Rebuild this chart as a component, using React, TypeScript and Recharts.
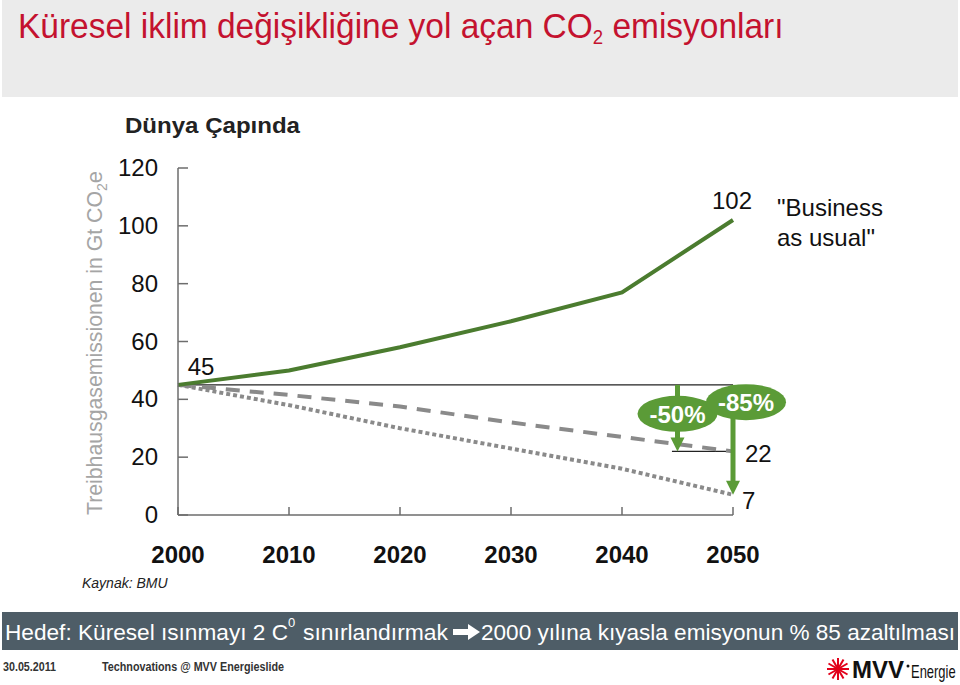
import React from 'react';
import {
  LineChart,
  Line,
  XAxis,
  YAxis,
  ReferenceLine,
  ReferenceDot,
  LabelList,
} from 'recharts';

const years = [2000, 2010, 2020, 2030, 2040, 2050];
const businessAsUsual = [45, 50, 58, 67, 77, 102];
const minus50 = [45, 41.5, 37.5, 32, 27, 22];
const minus85 = [45, 38, 30, 23, 16, 7];
const yTicks = [0, 20, 40, 60, 80, 100, 120];

const data = years.map((year, i) => ({
  year,
  bau: businessAsUsual[i],
  half: minus50[i],
  deep: minus85[i],
}));

const AXIS = '#6d6d6d';
const DARK_GREEN = '#4b7c2f';
const GREEN = '#5b9b37';
const GREY = '#8a8a8a';
const FONT = '"Liberation Sans", Arial, sans-serif';

const YTick = (props: any) => {
  const { x, y, payload } = props;
  return (
    <g>
      <line x1={x} x2={x + 10} y1={y} y2={y} stroke={AXIS} strokeWidth={1.5} />
      <text x={x - 20} y={y + 8} textAnchor="end" fontSize={24} fill="#111" fontFamily={FONT}>
        {payload.value}
      </text>
    </g>
  );
};

const XTick = (props: any) => {
  const { x, y, payload } = props;
  return (
    <g>
      <line x1={x} x2={x} y1={y} y2={y - 8} stroke={AXIS} strokeWidth={1.5} />
      <text x={x} y={y + 48} textAnchor="middle" fontSize={24} fontWeight="bold" fill="#111" fontFamily={FONT}>
        {payload.value}
      </text>
    </g>
  );
};

const Arrow = (props: any) => {
  const { x1, y1, x2, y2 } = props;
  const head = 14;
  return (
    <g>
      <line x1={x1} x2={x2} y1={y1} y2={y2 - head + 1} stroke={GREEN} strokeWidth={5} />
      <polygon points={`${x2 - 7},${y2 - head} ${x2 + 7},${y2 - head} ${x2},${y2}`} fill={GREEN} />
    </g>
  );
};

const Bubble = (text: string, dx: number) => (props: any) => {
  const { cx, cy } = props;
  return (
    <g>
      <ellipse cx={cx + dx} cy={cy} rx={40} ry={18} fill={GREEN} />
      <text x={cx + dx} y={cy + 9} textAnchor="middle" fontSize={24} fontWeight="bold" fill="#fff" fontFamily={FONT}>
        {text}
      </text>
    </g>
  );
};

const endLabel = (index: number, dx: number, dy: number, anchor: string) => (props: any) => {
  const { x, y, value } = props;
  if (props.index !== index) return null;
  return (
    <text x={x + dx} y={y + dy} textAnchor={anchor} fontSize={24} fill="#111" fontFamily={FONT}>
      {value}
    </text>
  );
};

export default function App() {
  return (
    <div style={{ position: 'absolute', left: 0, top: 0, width: 960, height: 685, background: '#fff', fontFamily: FONT }}>
      <svg width={960} height={685} style={{ position: 'absolute', left: 0, top: 0 }}>
        <rect x={2} y={0} width={956} height={97} fill="#ebebeb" />
        <text transform="translate(18,38) scale(0.93,1)" fontSize={36} fill="#c4122f" fontFamily={FONT}>
          <tspan>Küresel iklim değişikliğine yol açan CO</tspan>
          <tspan dy={6} fontSize={20}>2</tspan>
          <tspan dy={-6}> emisyonları</tspan>
        </text>

        <text x={125} y={133} fontSize={22} fontWeight="bold" fill="#222" textLength={175} lengthAdjust="spacingAndGlyphs" fontFamily={FONT}>
          Dünya Çapında
        </text>

        <text transform="translate(102,515) rotate(-90)" fontSize={22} fill="#a5a5a5" fontFamily={FONT}>
          <tspan textLength={324} lengthAdjust="spacingAndGlyphs">Treibhausgasemissionen in Gt CO</tspan>
          <tspan dy={5} fontSize={14}>2</tspan>
          <tspan dy={-5}>e</tspan>
        </text>

        <text x={777} y={216} fontSize={24} fill="#111" fontFamily={FONT}>"Business</text>
        <text x={777} y={246} fontSize={24} fill="#111" fontFamily={FONT}>as usual"</text>

        <text x={82} y={588} fontSize={14} fontStyle="italic" fill="#222" fontFamily={FONT}>Kaynak: BMU</text>

        <rect x={2} y={612} width={956} height={38} fill="#4e5d67" />
        <text x={5} y={640} fontSize={22} fill="#fff" textLength={283} lengthAdjust="spacingAndGlyphs" fontFamily={FONT}>
          Hedef: Küresel ısınmayı 2 C
        </text>
        <text x={288} y={627} fontSize={13} fill="#fff" fontFamily={FONT}>0</text>
        <text x={303} y={640} fontSize={22} fill="#fff" textLength={145} lengthAdjust="spacingAndGlyphs" fontFamily={FONT}>
          sınırlandırmak
        </text>
        <polygon points="453,629 468,629 468,624 480,632 468,640 468,635 453,635" fill="#fff" />
        <text x={481} y={640} fontSize={22} fill="#fff" textLength={474} lengthAdjust="spacingAndGlyphs" fontFamily={FONT}>
          2000 yılına kıyasla emisyonun % 85 azaltılması
        </text>

        <text x={3} y={671} fontSize={12} fontWeight="bold" fill="#333" textLength={53} lengthAdjust="spacingAndGlyphs" fontFamily={FONT}>
          30.05.2011
        </text>
        <text x={102} y={671} fontSize={12} fontWeight="bold" fill="#333" textLength={182} lengthAdjust="spacingAndGlyphs" fontFamily={FONT}>
          Technovations @ MVV Energieslide
        </text>

        <g stroke="#e2001a" strokeWidth={2}>
          {[0, 30, 60, 90, 120, 150].map((a) => {
            const r = 11;
            const rad = (a * Math.PI) / 180;
            return (
              <line
                key={a}
                x1={838 - r * Math.cos(rad)}
                y1={669 - r * Math.sin(rad)}
                x2={838 + r * Math.cos(rad)}
                y2={669 + r * Math.sin(rad)}
              />
            );
          })}
        </g>
        <text x={852} y={678} fontSize={24} fontWeight="bold" fill="#111" textLength={52} lengthAdjust="spacingAndGlyphs" fontFamily={FONT}>
          MVV
        </text>
        <circle cx={908} cy={666} r={1.5} fill="#111" />
        <text transform="translate(911,678) scale(0.72,1)" fontSize={18} fill="#111" fontFamily={FONT}>
          Energie
        </text>
      </svg>

      <div style={{ position: 'absolute', left: 0, top: 0 }}>
        <LineChart
          width={960}
          height={685}
          data={data}
          margin={{ top: 168, right: 227, bottom: 130, left: 118 }}
        >
          <XAxis
            type="number"
            dataKey="year"
            domain={[2000, 2050]}
            ticks={years}
            interval={0}
            height={40}
            tickSize={0}
            tickMargin={0}
            tickLine={false}
            axisLine={{ stroke: AXIS, strokeWidth: 1.5 }}
            tick={<XTick />}
          />
          <YAxis
            type="number"
            domain={[0, 120]}
            ticks={yTicks}
            interval={0}
            width={60}
            tickSize={0}
            tickMargin={0}
            tickLine={false}
            axisLine={{ stroke: AXIS, strokeWidth: 1.5 }}
            tick={<YTick />}
          />
          <ReferenceLine
            segment={[{ x: 2000, y: 45 }, { x: 2050, y: 45 }]}
            stroke="#222"
            strokeWidth={1.2}
          />
          <ReferenceLine
            segment={[{ x: 2044.5, y: 22 }, { x: 2050, y: 22 }]}
            stroke="#222"
            strokeWidth={1.2}
          />
          <Line
            type="linear"
            dataKey="deep"
            stroke={GREY}
            strokeWidth={4}
            strokeDasharray="4 3"
            dot={false}
            isAnimationActive={false}
          >
            <LabelList dataKey="deep" content={endLabel(5, 9, 14, 'start')} />
          </Line>
          <Line
            type="linear"
            dataKey="half"
            stroke={GREY}
            strokeWidth={4}
            strokeDasharray="14 10"
            dot={false}
            isAnimationActive={false}
          >
            <LabelList dataKey="half" content={endLabel(5, 12, 11, 'start')} />
          </Line>
          <Line
            type="linear"
            dataKey="bau"
            stroke={DARK_GREEN}
            strokeWidth={4}
            dot={false}
            isAnimationActive={false}
          >
            <LabelList dataKey="bau" content={(p: any) => (p.index === 0 ? endLabel(0, 23, -10, 'middle')(p) : endLabel(5, -1, -11, 'middle')(p))} />
          </Line>
          <ReferenceLine segment={[{ x: 2045, y: 45 }, { x: 2045, y: 22 }]} shape={<Arrow />} />
          <ReferenceLine segment={[{ x: 2050, y: 45 }, { x: 2050, y: 7 }]} shape={<Arrow />} ifOverflow="visible" />
          <ReferenceDot x={2045} y={35} r={1} shape={Bubble('-50%', 0)} ifOverflow="visible" />
          <ReferenceDot x={2050} y={39} r={1} shape={Bubble('-85%', 13)} ifOverflow="visible" />
        </LineChart>
      </div>
    </div>
  );
}
